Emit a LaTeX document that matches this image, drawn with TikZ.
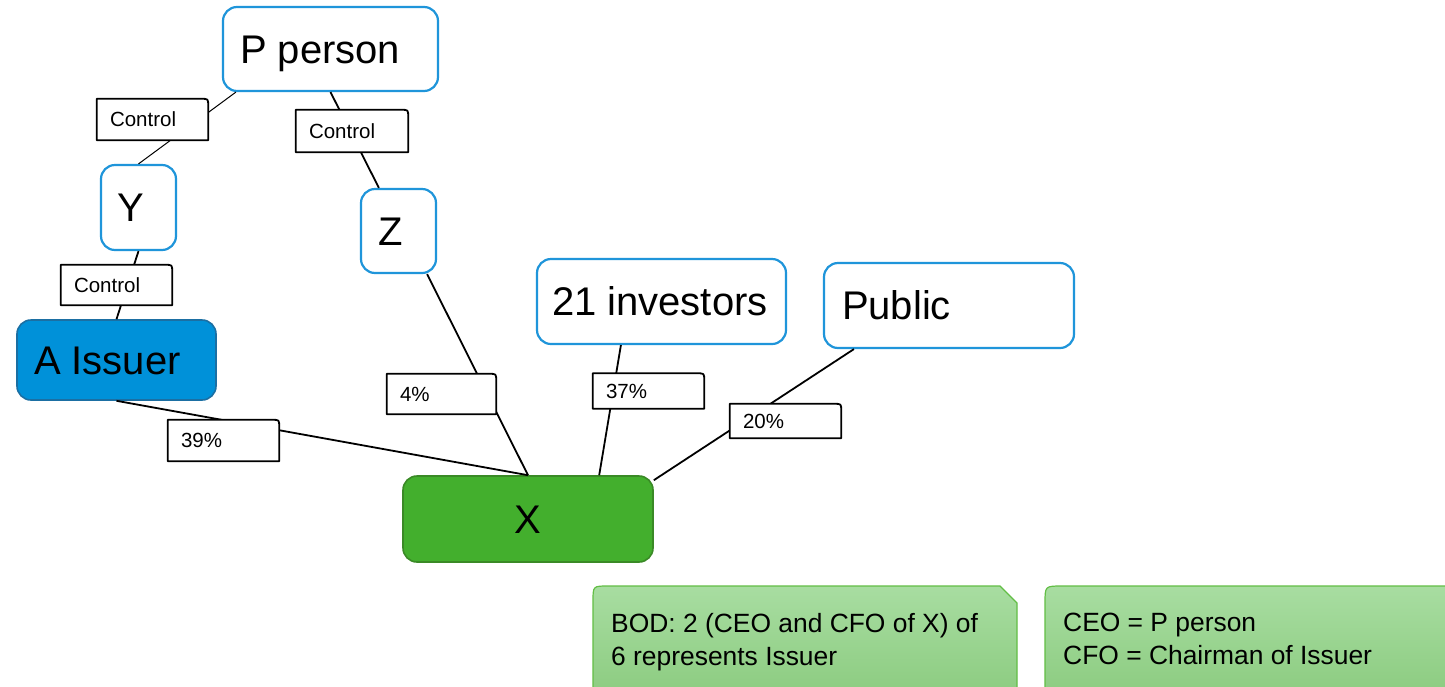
\documentclass[tikz,border=0pt]{standalone}
\usepackage{fontspec}
\setmainfont{Liberation Sans}
\definecolor{entityline}{HTML}{1F95DA}
\definecolor{issuerfill}{HTML}{0091D9}
\definecolor{issuerline}{HTML}{1B6FA3}
\definecolor{xfill}{HTML}{43AF2D}
\definecolor{xline}{HTML}{3A8A26}
\definecolor{notetop}{HTML}{A8DDA1}
\definecolor{notebottom}{HTML}{8BCB7F}
\definecolor{noteline}{HTML}{62BE45}
% left-aligned box of fixed width for entity and tag texts
\newcommand{\lbox}[2]{\makebox[#1][l]{#2}}
\tikzset{
  entity/.style={draw=entityline, line width=2.2pt, rounded corners=14pt,
    fill=white, inner ysep=0pt,
    font=\fontsize{40}{48}\selectfont, text height=28.6pt, text depth=0pt},
  tag/.style={fill=white, inner xsep=13pt, inner ysep=0pt,
    font=\fontsize{20.5}{24}\selectfont,
    text height=14.7pt, text depth=0pt},
  tagline/.style={draw=black, line width=1.8pt, line join=round},
  conn/.style={draw=black, line width=1.8pt},
  thinconn/.style={draw=black, line width=1pt},
  note/.style={draw=noteline, line width=1.2pt, top color=notetop, bottom color=notebottom},
  notetext/.style={anchor=north west, inner sep=0pt, align=left,
    font=\fontsize{26.4}{33}\selectfont}
}
\begin{document}
\begin{tikzpicture}[x=1pt,y=-1pt]
\clip (0,0) rectangle (1445,686);
\fill[white] (0,0) rectangle (1445,686);

% ownership entities
\node[entity, inner xsep=17pt, minimum height=84pt] (P) at (330.5,49) {\lbox{181pt}{P person}};
\node[entity, inner xsep=16pt, minimum height=85pt] (Y) at (138.5,207.5) {\lbox{43pt}{Y}};
\node[entity, inner xsep=17pt, minimum height=84pt] (Z) at (398.5,231) {\lbox{41pt}{Z}};
\node[entity, inner xsep=15pt, minimum height=85pt] (inv) at (661.5,301.5) {\lbox{219pt}{21 investors}};
\node[entity, inner xsep=18pt, minimum height=85pt] (pub) at (949,305.5) {\lbox{214pt}{Public}};
\node[entity, draw=issuerline, fill=issuerfill, line width=1.6pt, inner xsep=17pt,
      minimum height=80pt] (A) at (116.5,360) {\lbox{165pt}{A Issuer}};
\node[entity, draw=xline, fill=xfill, line width=1.6pt, inner xsep=0pt,
      minimum width=250pt, minimum height=86pt] (X) at (528,519) {X};

% connectors
\draw[thinconn] ([xshift=14pt]P.south west) -- (Y.north);
\draw[conn] (P.south) -- ([xshift=19pt]Z.north west);
\draw[conn] (Y.south) -- (A.north);
\draw[conn] ([xshift=-10pt]Z.south east) -- (X.north);
\draw[conn] (A.south) -- (X.north);
\draw[conn] ([xshift=85pt]inv.south west) -- ([xshift=197pt]X.north west);
\draw[conn] ([xshift=31pt]pub.south west) -- ([yshift=-5pt]X.north east);

% edge labels
\node[tag, minimum height=41pt] (c1) at (152.5,119.5) {\lbox{85pt}{Control}};
\node[tag, minimum height=42pt] (c2) at (352,131) {\lbox{86pt}{Control}};
\node[tag, minimum height=40pt] (c3) at (116.5,285) {\lbox{85pt}{Control}};
\node[tag, minimum height=40pt] (t4) at (441.5,394) {\lbox{83pt}{4\%}};
\node[tag, minimum height=35pt] (t37) at (648.5,391) {\lbox{85pt}{37\%}};
\node[tag, minimum height=34pt] (t20) at (785.5,421) {\lbox{85pt}{20\%}};
\node[tag, minimum height=41pt] (t39) at (223.5,440.5) {\lbox{85pt}{39\%}};
\foreach \n in {c1,c2,c3,t4,t37,t20,t39}
  \draw[tagline] (\n.south west) -- (\n.north west) -- ([xshift=-7pt]\n.north east)
    .. controls (\n.north east) .. ([yshift=-7pt]\n.north east) -- (\n.south east) -- cycle;

% notes
\path[note] (593,700) -- (593,601) .. controls (593,586) .. (608,586)
  -- (1000,586) -- (1017,603) -- (1017,700);
\node[notetext] (bod) at (611,613) {BOD: 2 (CEO and CFO of X) of\\6 represents Issuer};
\path[note] (1045,700) -- (1045,603) .. controls (1045,586) .. (1062,586)
  -- (1460,586) -- (1460,700);
\node[notetext] (roles) at (1063,613) {CEO = P person\\CFO = Chairman of Issuer};
\end{tikzpicture}
\end{document}
